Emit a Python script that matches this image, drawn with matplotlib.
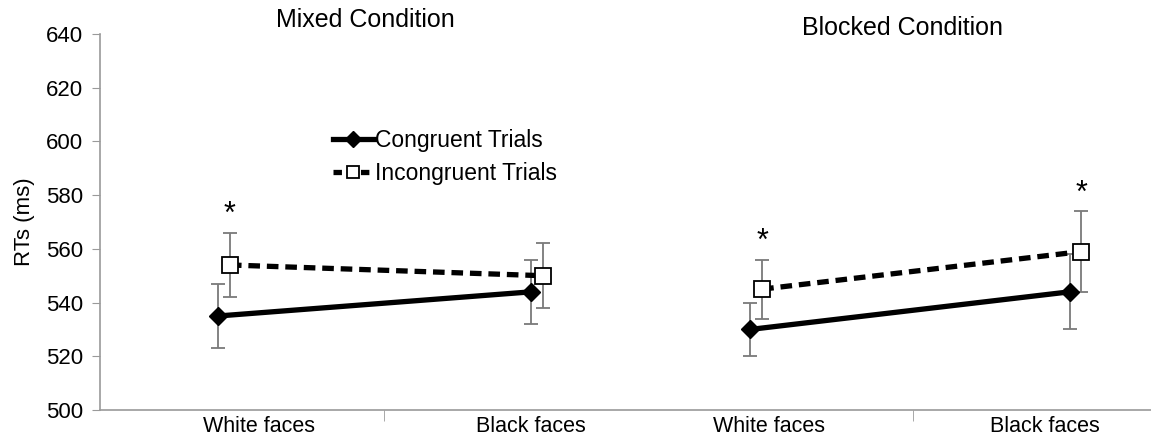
import matplotlib
matplotlib.use("Agg")
import matplotlib.pyplot as plt
from matplotlib.lines import Line2D

plt.rcParams['font.family'] = ['Liberation Sans', 'DejaVu Sans']

# ---- data ----
categories = ["White faces", "Black faces", "White faces", "Black faces"]
conditions = ["Mixed Condition", "Blocked Condition"]
congruent = [535, 544, 530, 544]
congruent_err = [12, 12, 10, 14]
incongruent = [554, 550, 545, 559]
incongruent_err = [12, 12, 11, 15]
significant = [True, False, True, True]
series_names = ["Congruent Trials", "Incongruent Trials"]
y_ticks = [500, 520, 540, 560, 580, 600, 620, 640]

# ---- layout (positions of the category slots) ----
pos = [0.0, 1.0, 1.70, 2.72]
offset = 0.038
label_pos = [0.13, 1.0, 1.76, 2.64]
sep_pos = [0.53, 2.22]

fig = plt.figure(figsize=(11.51, 4.38), dpi=100)
ax = fig.add_axes([100/1151, 1-410/438, 1-100/1151, (410-34)/438])

grey = "#9a9a9a"
for seg in [(0, 1), (2, 3)]:
    xs_c = [pos[i] for i in seg]
    xs_i = [pos[i] + offset for i in seg]
    ax.errorbar(xs_c, [congruent[i] for i in seg], yerr=[congruent_err[i] for i in seg],
                fmt="none", ecolor="#7a7a7a", elinewidth=1.3, capsize=5, capthick=1.3, zorder=2)
    ax.errorbar(xs_i, [incongruent[i] for i in seg], yerr=[incongruent_err[i] for i in seg],
                fmt="none", ecolor="#7a7a7a", elinewidth=1.3, capsize=5, capthick=1.3, zorder=2)
    ax.plot(xs_c, [congruent[i] for i in seg], color="black", lw=3.8,
            marker="D", ms=9, mfc="black", mec="black", zorder=4)
    ax.plot(xs_i, [incongruent[i] for i in seg], color="black", lw=3.8, ls=(0, (2.2, 1.3)),
            marker="s", ms=11, mfc="white", mec="black", mew=1.3, zorder=4)

for i, sig in enumerate(significant):
    if sig:
        ax.annotate("*", (pos[i] + offset, incongruent[i] + incongruent_err[i]),
                    xytext=(0, 2), textcoords="offset points", ha="center", va="bottom",
                    fontsize=22)

ax.set_xlim(-0.377, 2.98)
ax.set_ylim(500, 640)
ax.set_yticks(y_ticks)
ax.tick_params(axis="y", labelsize=16, length=6, color=grey, pad=6, direction="out")
ax.set_xticks(label_pos)
ax.set_xticklabels(categories, fontsize=15.5)
ax.tick_params(axis="x", length=0, pad=4)
ax.set_xticks(sep_pos, minor=True)
ax.tick_params(axis="x", which="minor", length=8, color=grey)
for s in ["top", "right"]:
    ax.spines[s].set_visible(False)
for s in ["left", "bottom"]:
    ax.spines[s].set_color(grey)
    ax.spines[s].set_linewidth(1.2)
ax.set_ylabel("RTs (ms)", fontsize=16, labelpad=8)

fig.text(365/1151, 1-20/438, conditions[0], ha="center", va="center", fontsize=18)
fig.text(903/1151, 1-28/438, conditions[1], ha="center", va="center", fontsize=18)

handles = [
    Line2D([], [], color="black", lw=3.8, marker="D", ms=8, mfc="black", mec="black"),
    Line2D([], [], color="black", lw=3.8, ls=(0, (1.6, 1.0)), marker="s", ms=9,
           mfc="white", mec="black", mew=1.3),
]
fig.legend(handles, series_names, loc="center left", bbox_to_anchor=(312/1151, 1-157/438),
           frameon=False, fontsize=16.5, handlelength=1.8, handletextpad=0.05, labelspacing=0.45,
           markerscale=1)

fig.savefig("out.png", dpi=100)
